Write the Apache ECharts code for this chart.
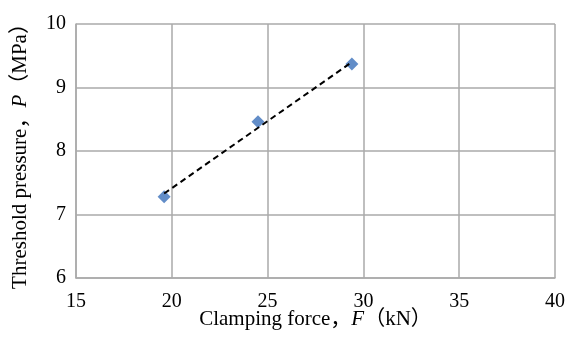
<!DOCTYPE html>
<html>
<head>
<meta charset="utf-8">
<script src="https://cdn.jsdelivr.net/npm/echarts@6/dist/echarts.min.js"></script>
<style>
  html, body { margin: 0; padding: 0; background: #fff; }
  #chart { width: 568px; height: 338px; }
</style>
</head>
<body>
<div id="chart"></div>
<script>
// clamping force (kN) and threshold pressure (MPa)
var forceKN = [19.6, 24.5, 29.4];
var pressureMPa = [7.28, 8.46, 9.37];
// linear trend line end points
var trendX = [19.6, 29.4];
var trendY = [7.33, 9.40];

var serif = '"Liberation Serif", "Times New Roman", "Noto Sans CJK SC", serif';
var gridColor = '#aaaaaa';

var points = forceKN.map(function (f, i) { return [f, pressureMPa[i]]; });
var trend = trendX.map(function (f, i) { return [f, trendY[i]]; });

// 轴标题样式 (F, P 用斜体)
var nameRich = {
    a: { fontFamily: serif, fontSize: 21, lineHeight: 22, color: '#000' },
    i: { fontFamily: serif, fontSize: 21, lineHeight: 22, fontStyle: 'italic', color: '#000' }
};

var myChart = echarts.init(document.getElementById('chart'));

myChart.setOption({
    animation: false,
    grid: { left: 76, right: 13, top: 24, bottom: 60, outerBoundsMode: 'none', containLabel: false },
    xAxis: {
        type: 'value',
        min: 15, max: 40, interval: 5,
        name: '{a|Clamping force，}{i|F}{a|（kN）}',
        nameLocation: 'middle',
        nameGap: 30,
        nameMoveOverlap: false,
        nameTextStyle: { lineHeight: 22, rich: nameRich },
        axisLine: { show: true, lineStyle: { color: gridColor, width: 1.5 } },
        axisTick: { show: false },
        axisLabel: { fontFamily: serif, fontSize: 20, color: '#000', margin: 14 },
        splitLine: { show: true, lineStyle: { color: gridColor, width: 1.5 } }
    },
    yAxis: {
        type: 'value',
        min: 6, max: 10, interval: 1,
        name: '{a|Threshold pressure，}{i|P}{a|（MPa）}',
        nameLocation: 'middle',
        nameGap: 45,
        nameRotate: 90,
        nameMoveOverlap: false,
        nameTextStyle: { lineHeight: 22, rich: nameRich },
        axisLine: { show: true, lineStyle: { color: gridColor, width: 1.5 } },
        axisTick: { show: false },
        axisLabel: { fontFamily: serif, fontSize: 20, color: '#000', margin: 10 },
        splitLine: { show: true, lineStyle: { color: gridColor, width: 1.5 } }
    },
    series: [
        {
            type: 'scatter',
            data: points,
            symbol: 'diamond',
            symbolSize: 13,
            itemStyle: { color: '#3b70ba' },
            z: 2
        },
        {
            type: 'line',
            data: trend,
            showSymbol: false,
            symbol: 'none',
            lineStyle: { color: '#000', width: 2, type: [6, 4] },
            z: 3
        }
    ]
});
</script>
</body>
</html>
